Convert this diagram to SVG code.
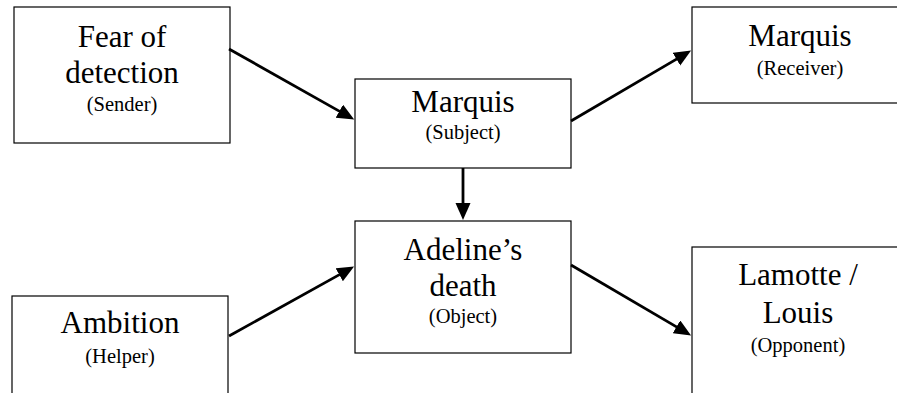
<svg xmlns="http://www.w3.org/2000/svg" width="897" height="393" viewBox="0 0 897 393">
<style>
.box{fill:#fff;stroke:#000;stroke-width:1.2}
.big{font-size:31px;fill:#000;text-anchor:middle}
.small{font-size:20.5px;fill:#000;text-anchor:middle}
.conn line{stroke:#000;stroke-width:2.8;fill:none}
</style>
<defs>
<marker id="ah" markerUnits="userSpaceOnUse" markerWidth="18" markerHeight="16" refX="9" refY="7.5" orient="auto">
<path d="M0,0 L17,7.5 L0,15 z" fill="#000"/>
</marker>
</defs>
<rect width="897" height="393" fill="#fff"/>
<g font-family="'Liberation Serif', Tinos, 'Times New Roman', Times, 'DejaVu Serif', serif">
<g id="sender">
<rect class="box" x="14" y="7" width="216" height="136"/>
<text class="big" x="122" y="47">Fear of</text>
<text class="big" x="122" y="83">detection</text>
<text class="small" x="122" y="111">(Sender)</text>
</g>
<g id="subject">
<rect class="box" x="355" y="79" width="216" height="89"/>
<text class="big" x="463" y="112">Marquis</text>
<text class="small" x="463" y="139">(Subject)</text>
</g>
<g id="receiver">
<rect class="box" x="692" y="7" width="216" height="96"/>
<text class="big" x="800" y="46">Marquis</text>
<text class="small" x="800" y="75">(Receiver)</text>
</g>
<g id="object">
<rect class="box" x="355" y="221" width="216" height="132"/>
<text class="big" x="463" y="260">Adeline’s</text>
<text class="big" x="463" y="296">death</text>
<text class="small" x="463" y="323">(Object)</text>
</g>
<g id="helper">
<rect class="box" x="12" y="296" width="216" height="110"/>
<text class="big" x="120" y="333">Ambition</text>
<text class="small" x="120" y="363">(Helper)</text>
</g>
<g id="opponent">
<rect class="box" x="692" y="247" width="214" height="160"/>
<text class="big" x="798" y="285">Lamotte /</text>
<text class="big" x="798" y="323">Louis</text>
<text class="small" x="798" y="352">(Opponent)</text>
</g>
</g>
<g id="connectors" class="conn">
<line x1="229" y1="49" x2="347.2" y2="115.6" marker-end="url(#ah)"/>
<line x1="571" y1="121" x2="684.2" y2="54.6" marker-end="url(#ah)"/>
<line x1="463" y1="168" x2="463" y2="212" marker-end="url(#ah)"/>
<line x1="229" y1="336" x2="347.1" y2="270.4" marker-end="url(#ah)"/>
<line x1="571" y1="265" x2="684.2" y2="331.4" marker-end="url(#ah)"/>
</g>
</svg>
